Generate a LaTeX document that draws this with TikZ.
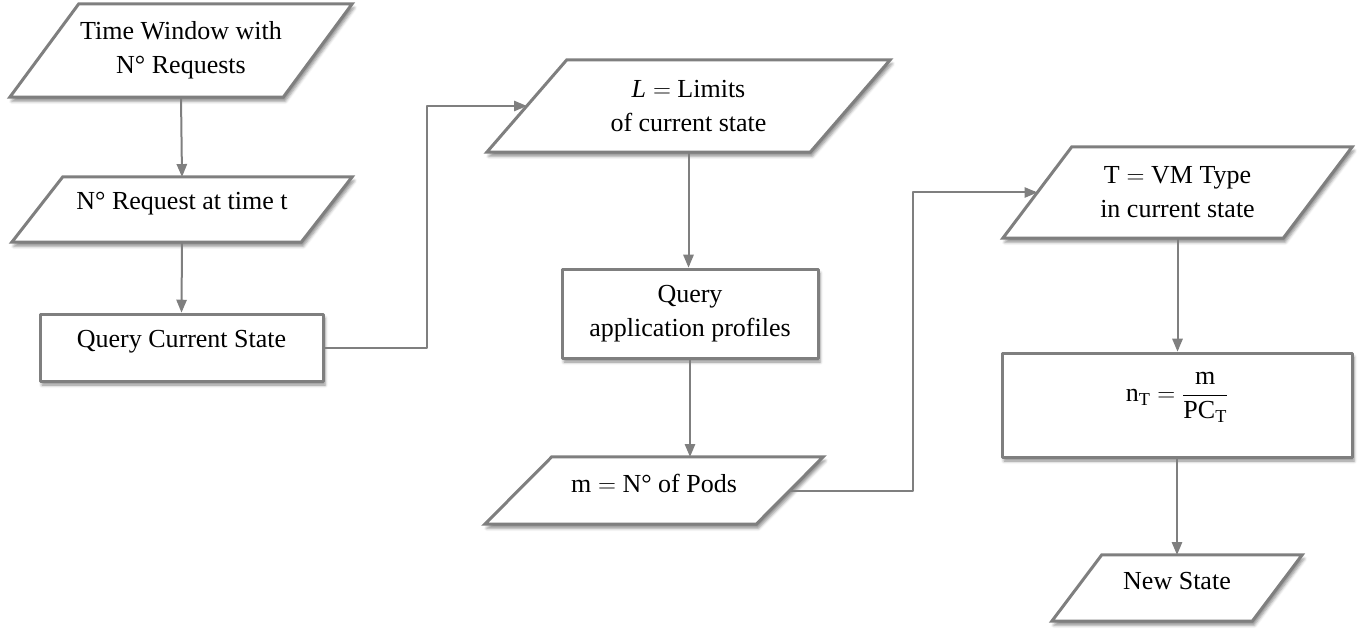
\documentclass[tikz,border=0pt]{standalone}
\usepackage{fontspec}
\setmainfont{Liberation Serif}
\usepackage{amsmath}
\usepackage{tikz}
\usetikzlibrary{arrows,calc,backgrounds,shadows.blur}
\definecolor{linegray}{RGB}{127,127,127}

\begin{document}
\begin{tikzpicture}[line cap=round,line join=round,>=triangle 45,x=1pt,y=-1pt,
	font=\fontsize{26}{34}\selectfont,
	box/.style={draw=linegray,line width=3pt,fill=white,align=center,inner sep=0pt,
		blur shadow={shadow xshift=2pt,shadow yshift=-4pt,shadow blur radius=3pt,shadow opacity=45}},
	io/.style={align=center,inner sep=0pt},
	lift/.style={text depth=#1},
	flow/.style={draw=linegray,line width=2pt,->}]
	\useasboundingbox (0,0) rectangle (1362,639);
	\node[io,minimum width=273,minimum height=93] (tw) at (181,50.5) {Time Window with\\N° Requests};
	\node[io,lift=17pt,minimum width=289,minimum height=65] (req) at (182,209.5) {N° Request at time t};
	\node[box,lift=17pt,minimum width=283,minimum height=67] (qcs) at (181.5,347.5) {Query Current State};
	\node[io,minimum width=323,minimum height=92] (lim) at (688.5,106) {$\mathit{L} =$ Limits\\of current state};
	\node[box,minimum width=256,minimum height=89] (qap) at (690,313.5) {Query\\application profiles};
	\node[io,lift=15pt,minimum width=271,minimum height=67] (pods) at (654,490.5) {$\mathrm{m} =$\ N° of Pods};
	\node[io,minimum width=280,minimum height=91] (vmt) at (1177.5,192.5) {$\mathrm{T} =$ VM Type\\in current state};
	\node[box,lift=36pt,minimum width=350,minimum height=104] (ntb) at (1177,405) {$\mathrm{n}_\mathrm{T} = \dfrac{\mathrm{m}}{\mathrm{PC}_\mathrm{T}}$};
	\node[io,lift=15pt,minimum width=200,minimum height=66] (nst) at (1177,588) {New State};
	\begin{scope}[on background layer]
		\foreach \n/\s in {tw/69,req/51,lim/80,pods/67,vmt/69,nst/50}
			\draw[box] ($(\n.south west)+(-\s/2,0)$) -- ($(\n.north west)+(\s/2,0)$)
				-- ($(\n.north east)+(\s/2,0)$) -- ($(\n.south east)+(-\s/2,0)$) -- cycle;
	\end{scope}
	\draw[flow] (tw.south) -- (req.north);
	\draw[flow] (req.south) -- (qcs.north);
	\draw[flow] (qcs.east) -- ++(102,0) |- (lim.west);
	\draw[flow] (lim.south) -- (lim.south |- qap.north);
	\draw[flow] (qap.south) -- (qap.south |- pods.north);
	\draw[flow] (pods.east) -- ++(123.5,0) |- (vmt.west);
	\draw[flow] (vmt.south) -- (vmt.south |- ntb.north);
	\draw[flow] (ntb.south) -- (nst.north);
\end{tikzpicture}
\end{document}
